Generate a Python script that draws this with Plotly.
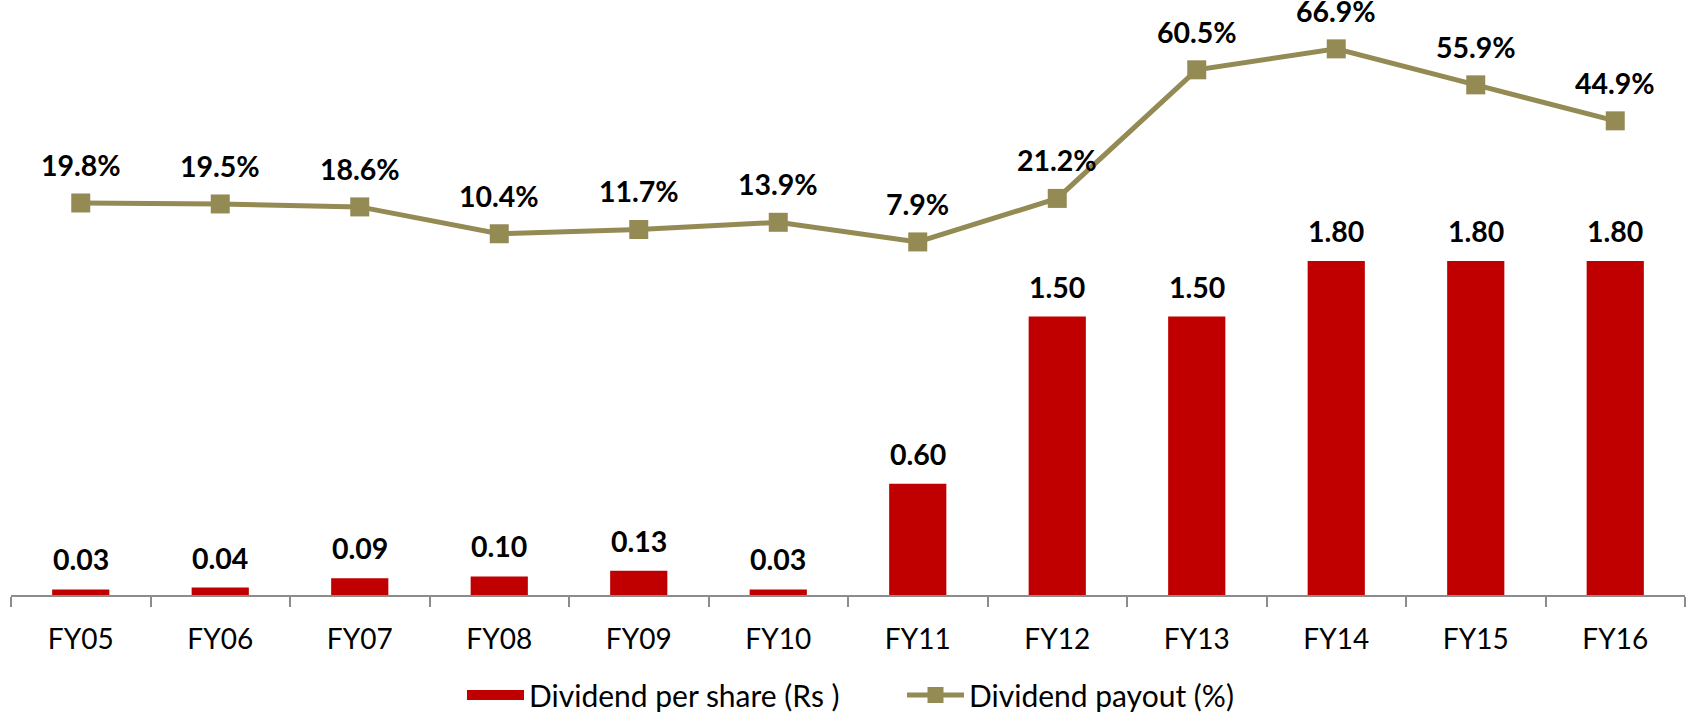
import plotly.graph_objects as go

# data
years = ['FY05', 'FY06', 'FY07', 'FY08', 'FY09', 'FY10', 'FY11', 'FY12', 'FY13', 'FY14', 'FY15', 'FY16']
dps = [0.03, 0.04, 0.09, 0.10, 0.13, 0.03, 0.60, 1.50, 1.50, 1.80, 1.80, 1.80]
payout = [19.8, 19.5, 18.6, 10.4, 11.7, 13.9, 7.9, 21.2, 60.5, 66.9, 55.9, 44.9]

red = '#C00000'
olive = '#948A54'
font = 'Lato, Carlito, Calibri, sans-serif'

fig = go.Figure()
fig.add_trace(go.Bar(x=years, y=dps, name='Dividend per share (Rs )', showlegend=False,
                     marker=dict(color=red, line=dict(width=0))))
# legend-only entry so the key looks like a wide red block
fig.add_trace(go.Scatter(x=[None], y=[None], name='Dividend per share (Rs )', mode='lines',
                         line=dict(color=red, width=20)))
fig.add_trace(go.Scatter(x=years, y=payout, name='Dividend payout (%)', yaxis='y2',
                         mode='lines+markers',
                         line=dict(color=olive, width=5),
                         marker=dict(symbol='square', size=19, color=olive)))

annotations = []
for x, v in zip(years, dps):
    annotations.append(dict(x=x, y=v, xref='x', yref='y', text='%.2f' % v,
                            showarrow=False, yanchor='middle', yshift=30,
                            font=dict(family=font, size=28.5, color='black', weight='bold')))
for x, v in zip(years, payout):
    annotations.append(dict(x=x, y=v, xref='x', yref='y2', text='%.1f%%' % v,
                            showarrow=False, yanchor='middle', yshift=38,
                            font=dict(family=font, size=28.5, color='black', weight='bold')))

fig.update_layout(
    width=1692, height=716,
    margin=dict(l=11, r=7, t=6, b=121, autoexpand=False),
    paper_bgcolor='white', plot_bgcolor='white',
    font=dict(family=font, size=28, color='black'),
    bargap=0.59,
    showlegend=True,
    legend=dict(orientation='h', x=462 / 1692, xanchor='left', xref='container',
                y=(716 - 695) / 716, yanchor='middle', yref='container',
                font=dict(size=30), itemwidth=57, entrywidth=368, traceorder='normal'),
    xaxis=dict(type='category', range=[-0.5, 11.5], showline=True, linecolor='#8C8C8C',
               linewidth=2, ticks='outside', tickson='boundaries', ticklen=10,
               tickcolor='#8C8C8C', tickwidth=2, showgrid=False, tickfont=dict(size=28),
               ticklabelstandoff=18, automargin=False),
    yaxis=dict(range=[0, 589 / 185.6], visible=False, showgrid=False, zeroline=False),
    yaxis2=dict(range=[-100, 80], overlaying='y', side='right', visible=False,
                showgrid=False, zeroline=False),
    annotations=annotations,
)

fig.write_html("out.html", config={'displayModeBar': False},
               post_script="document.body.style.margin='0';document.body.style.overflow='hidden';")
